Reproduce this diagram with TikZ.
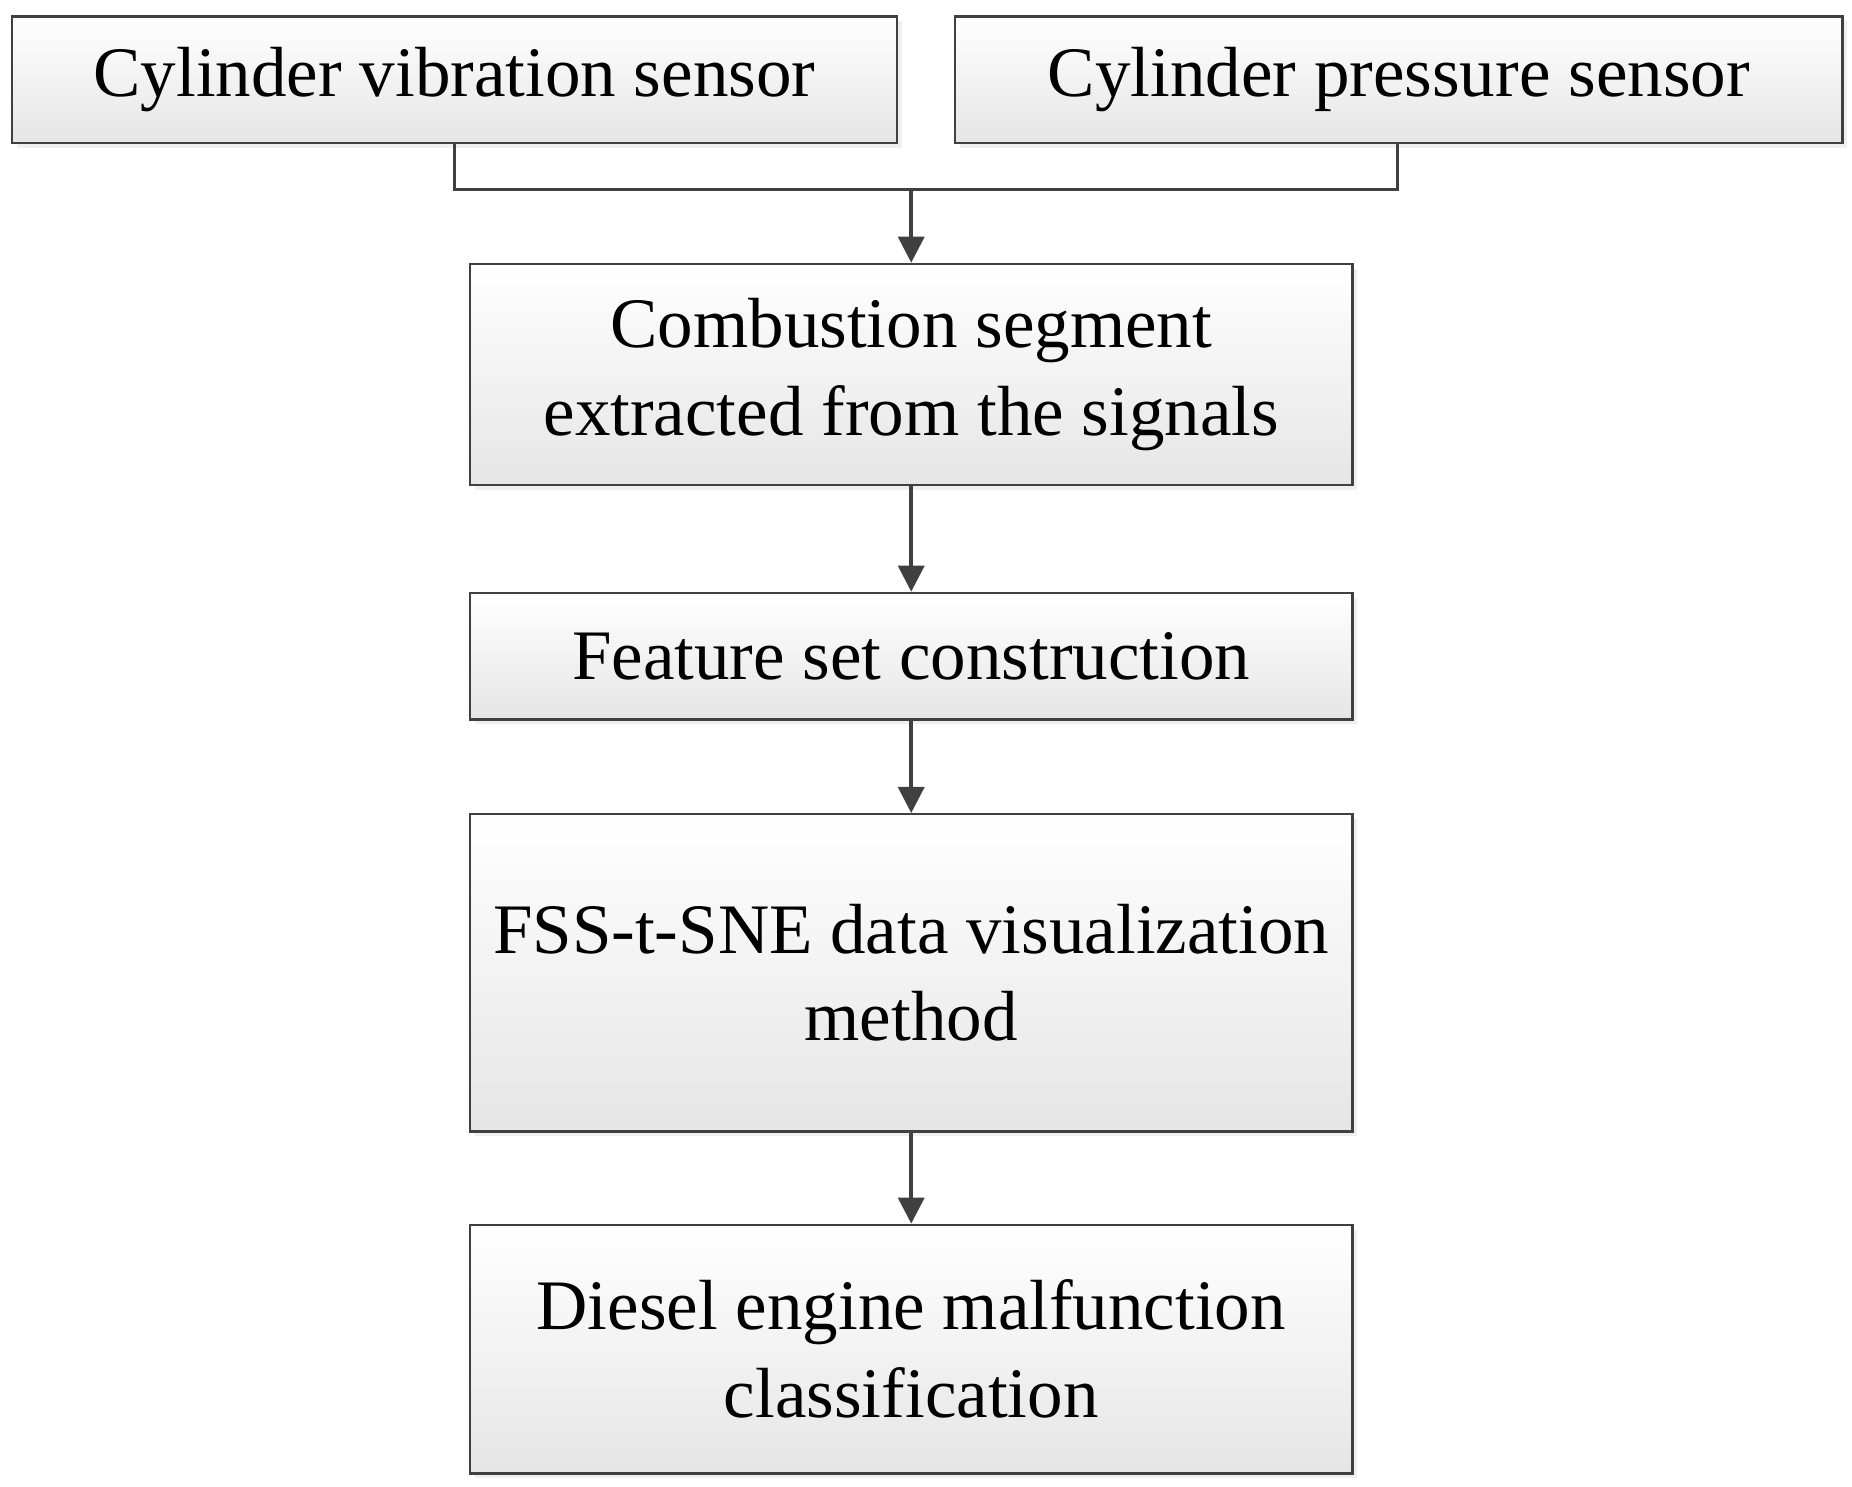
\documentclass[tikz,border=0pt]{standalone}
\usepackage{fontspec}
\setmainfont{Liberation Serif}
\usetikzlibrary{arrows.meta,shadows}
\definecolor{ln}{HTML}{404040}
\begin{document}
\begin{tikzpicture}[x=1pt,y=-1pt,
  box/.style={draw=ln,line width=2pt,top color=white,bottom color=black!10,
    drop shadow={shadow xshift=4pt,shadow yshift=-4pt,fill=black!12},
    align=center,font=\fontsize{60}{74}\selectfont,inner sep=0pt},
  con/.style={draw=ln,line width=3pt},
  arr/.style={con,-{Triangle[length=22pt,width=22pt]}}]
\useasboundingbox (0,0) rectangle (1565,1256);
\node[box,minimum width=748pt,minimum height=107pt] (vib) at (384,67.5) {Cylinder vibration sensor};
\node[box,minimum width=750pt,minimum height=107pt] (pre) at (1182,67.5) {Cylinder pressure sensor};
\node[box,minimum width=746pt,minimum height=187pt] (com) at (770,316.5) {Combustion segment\\extracted from the signals};
\node[box,minimum width=746pt,minimum height=107pt] (fea) at (770,554.5) {Feature set construction};
\node[box,minimum width=746pt,minimum height=268pt] (fss) at (770,822) {FSS-t-SNE data visualization\\method};
\node[box,minimum width=746pt,minimum height=210pt] (die) at (770,1140) {Diesel engine malfunction\\classification};
\coordinate (j) at (770,160);
\draw[con] (vib.south) |- (j) -| (1181,121);
\draw[arr] (j) -- (com.north);
\draw[arr] (com) -- (fea);
\draw[arr] (fea) -- (fss);
\draw[arr] (fss) -- (die);
\end{tikzpicture}
\end{document}
